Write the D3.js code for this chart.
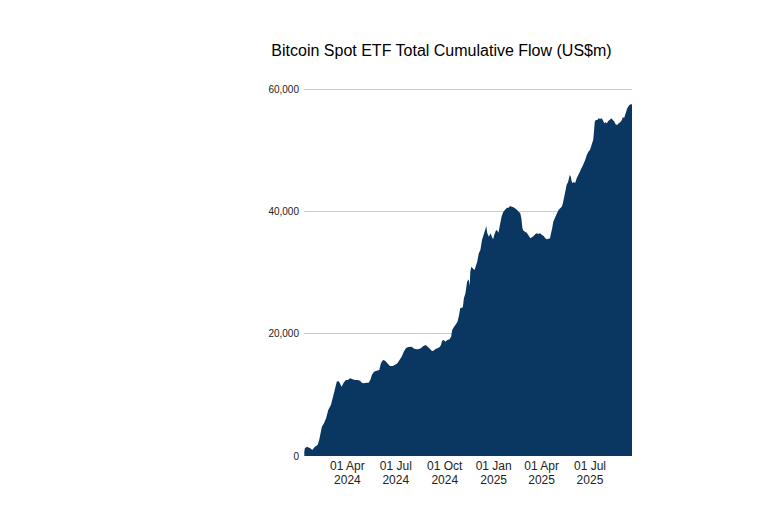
<!DOCTYPE html>
<html>
<head>
<meta charset="utf-8">
<script src="https://cdn.jsdelivr.net/npm/d3@7"></script>
<style>
  html, body { margin: 0; padding: 0; background: #fff; }
  svg { display: block; font-family: "Liberation Sans", Arial, sans-serif; }
</style>
</head>
<body>
<svg id="chart" width="757" height="514"></svg>
<script>
const chartTitle = "Bitcoin Spot ETF Total Cumulative Flow (US$m)";

const flowDates = [
  "2024-01-11","2024-01-12","2024-01-16","2024-01-22","2024-01-26","2024-01-31","2024-02-05","2024-02-08",
  "2024-02-13","2024-02-17","2024-02-21","2024-02-25","2024-03-01","2024-03-05","2024-03-09","2024-03-12",
  "2024-03-15","2024-03-18","2024-03-21","2024-03-25","2024-03-29","2024-04-02","2024-04-06","2024-04-11",
  "2024-04-15","2024-04-20","2024-04-25","2024-04-28","2024-05-01","2024-05-08","2024-05-11","2024-05-14",
  "2024-05-17","2024-05-21","2024-05-26","2024-05-31","2024-06-03","2024-06-07","2024-06-11","2024-06-15",
  "2024-06-20","2024-06-25","2024-06-29","2024-07-04","2024-07-08","2024-07-12","2024-07-16","2024-07-20",
  "2024-07-24","2024-07-31","2024-08-03","2024-08-08","2024-08-12","2024-08-17","2024-08-22","2024-08-26",
  "2024-08-30","2024-09-02","2024-09-07","2024-09-10","2024-09-13","2024-09-17","2024-09-21","2024-09-24",
  "2024-09-26","2024-09-29","2024-10-02","2024-10-06","2024-10-10","2024-10-13","2024-10-15","2024-10-18",
  "2024-10-21","2024-10-25","2024-10-28","2024-10-30","2024-11-04","2024-11-06","2024-11-09","2024-11-12",
  "2024-11-15","2024-11-17","2024-11-18","2024-11-20","2024-11-23","2024-11-26","2024-11-28","2024-12-01",
  "2024-12-04","2024-12-07","2024-12-10","2024-12-13","2024-12-16","2024-12-18","2024-12-20","2024-12-23",
  "2024-12-26","2024-12-29","2024-12-31","2025-01-02","2025-01-05","2025-01-07","2025-01-10","2025-01-13",
  "2025-01-16","2025-01-19","2025-01-22","2025-01-26","2025-01-29","2025-02-01","2025-02-04","2025-02-07",
  "2025-02-10","2025-02-14","2025-02-17","2025-02-20","2025-02-22","2025-02-24","2025-02-26","2025-03-01",
  "2025-03-04","2025-03-07","2025-03-11","2025-03-14","2025-03-17","2025-03-20","2025-03-23","2025-03-26",
  "2025-03-29","2025-04-02","2025-04-05","2025-04-08","2025-04-11","2025-04-14","2025-04-17","2025-04-18",
  "2025-04-21","2025-04-23","2025-04-27","2025-04-30","2025-05-03","2025-05-06","2025-05-09","2025-05-11",
  "2025-05-13","2025-05-15","2025-05-18","2025-05-21","2025-05-24","2025-05-26","2025-05-27","2025-05-29",
  "2025-06-01","2025-06-03","2025-06-06","2025-06-09","2025-06-12","2025-06-15","2025-06-18","2025-06-22",
  "2025-06-25","2025-06-28","2025-07-01","2025-07-04","2025-07-07","2025-07-08","2025-07-10","2025-07-12",
  "2025-07-15","2025-07-17","2025-07-20","2025-07-23","2025-07-25","2025-07-28","2025-07-30","2025-08-02",
  "2025-08-04","2025-08-07","2025-08-10","2025-08-13","2025-08-16","2025-08-18","2025-08-21","2025-08-24",
  "2025-08-27","2025-08-30","2025-09-01","2025-09-03","2025-09-05","2025-09-07","2025-09-09","2025-09-13",
  "2025-09-16","2025-09-18"
];

const flowValues = [
  650,1260,1520,1260,980,1520,1800,2620,
  4790,5350,6160,7520,8340,9700,11070,12150,
  12260,11890,11330,11990,12430,12430,12700,12540,
  12430,12430,12310,11990,11890,11990,11990,12430,
  13240,13780,13950,14060,15160,15700,15580,15160,
  14720,14720,14880,15160,15700,16240,17050,17610,
  17820,17870,17610,17450,17450,17610,17990,18150,
  17870,17610,17170,17220,17450,17610,17770,18150,
  18850,18970,18690,18970,19080,19510,20600,21040,
  21420,21960,23050,24150,24310,25780,26600,28500,
  28890,27800,30130,30950,30670,30410,30950,31770,
  33140,33680,35320,36130,36950,37600,36410,35860,
  36410,35760,35430,36130,36840,36950,36510,37900,
  39200,39900,40220,40600,40600,40870,40760,40660,
  40500,40220,39940,39680,38860,37230,36840,36670,
  36510,36130,35590,35760,35970,36250,36410,36300,
  36410,36130,35970,35590,35430,35530,35590,36130,
  37230,38310,39130,39680,40220,40500,40760,41300,
  42135,42950,44310,44850,45940,45670,45130,44590,
  44850,44590,45400,45940,46480,47040,47580,48400,
  49210,49750,50030,50850,51670,52480,54660,54940,
  54940,55210,55100,55210,54940,54400,54560,54400,
  54770,54940,55210,54940,54660,54230,54120,54400,
  54560,54940,55480,55210,55750,56290,56850,57390,
  57500,57500
];

const yTickValues = [0, 20000, 40000, 60000];
const xTickDates = ["2024-04-01","2024-07-01","2024-10-01","2025-01-01","2025-04-01","2025-07-01"];
const xDomain = ["2024-01-11","2025-09-18"];

const parse = d3.utcParse("%Y-%m-%d");
const data = flowDates.map((d, i) => ({ date: parse(d), value: flowValues[i] }));

const svg = d3.select("#chart");
const plotLeft = 304.3, plotRight = 632, plotTop = 89, plotBottom = 456;

const x = d3.scaleUtc().domain(xDomain.map(parse)).range([plotLeft, plotRight]);
const y = d3.scaleLinear().domain([0, 60000]).range([plotBottom, plotTop]);

// gridlines
svg.append("g")
  .selectAll("line")
  .data(yTickValues.filter(v => v > 0))
  .join("line")
  .attr("x1", plotLeft).attr("x2", plotRight)
  .attr("y1", d => y(d)).attr("y2", d => y(d))
  .attr("stroke", "#cccccc").attr("stroke-width", 1)
  .attr("shape-rendering", "crispEdges");

// area
const area = d3.area()
  .x(d => x(d.date))
  .y0(y(0))
  .y1(d => y(d.value))
  .curve(d3.curveLinear);

svg.append("path")
  .datum(data)
  .attr("d", area)
  .attr("fill", "#0a3762");

// y axis labels
const fmt = d3.format(",");
svg.append("g")
  .selectAll("text")
  .data(yTickValues)
  .join("text")
  .attr("x", 299)
  .attr("y", d => y(d))
  .attr("dy", "0.35em")
  .attr("text-anchor", "end")
  .attr("font-size", 10)
  .attr("fill", "#222")
  .text(d => fmt(d));

// x axis labels
const fmtTop = d3.utcFormat("%d %b");
const fmtBot = d3.utcFormat("%Y");
const xl = svg.append("g")
  .selectAll("text")
  .data(xTickDates.map(parse))
  .join("text")
  .attr("text-anchor", "middle")
  .attr("font-size", 12)
  .attr("fill", "#222");
xl.append("tspan").attr("x", d => x(d)).attr("y", 470).text(d => fmtTop(d));
xl.append("tspan").attr("x", d => x(d)).attr("y", 483.5).text(d => fmtBot(d));

// title
svg.append("text")
  .attr("x", 441.5)
  .attr("y", 56)
  .attr("text-anchor", "middle")
  .attr("font-size", 16)
  .attr("fill", "#000")
  .text(chartTitle);
</script>
</body>
</html>
